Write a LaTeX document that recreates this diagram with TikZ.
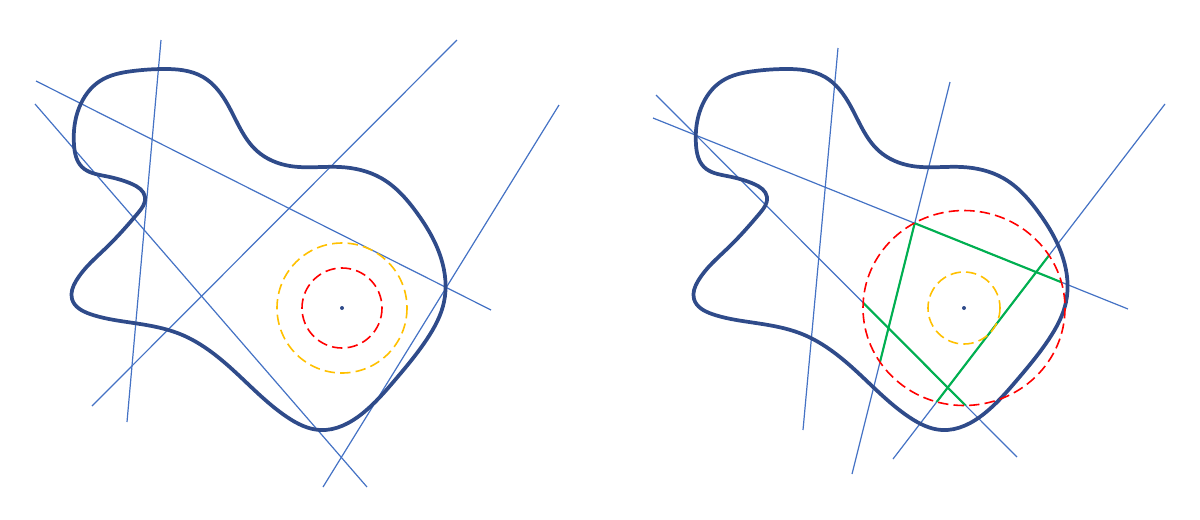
\documentclass[tikz,border=0pt]{standalone}
\usepackage{tikz}
\usetikzlibrary{hobby}

\definecolor{lineblue}{HTML}{4472C4}
\definecolor{blobblue}{HTML}{2F4B8A}
\definecolor{ringred}{HTML}{FF0000}
\definecolor{ringgold}{HTML}{FFC000}
\definecolor{chordgreen}{HTML}{00B050}

\tikzset{
  cutline/.style={draw=lineblue, line width=0.9pt},
  blob/.style={draw=blobblue, line width=2.8pt, line join=round},
  ring/.style={dash pattern=on 7.8pt off 3.9pt, line width=1.2pt},
  chord/.style={draw=chordgreen, line width=1.6pt},
}

\newcommand{\blobpath}{plot[closed hobby] coordinates {
  (162,69) (203,77) (228,105) (257,151) (290,166) (340,167) (381,178)
  (417,213) (441,258) (444,302) (427,339) (395,380) (363,413) (320,430)
  (287,417) (233,370) (180,334) (127,322) (90,314) (72,299) (76,281)
  (107,247) (138,213) (145,197) (132,184) (105,176) (82,167) (74,145)
  (79,108) (100,81) (133,71)}}

\begin{document}
\begin{tikzpicture}[x=0.75pt,y=0.75pt,yscale=-1,xscale=1]
\useasboundingbox (0,0) rectangle (1200,519);

% ---------- left panel ----------
%Straight Lines
\draw[cutline] (161,40) -- (127,422) ;
\draw[cutline] (457,40) -- (92,406) ;
\draw[cutline] (36,81) -- (491,310) ;
\draw[cutline] (35,104) -- (367,487) ;
\draw[cutline] (559,105) -- (323,487) ;
%Curve Lines
\draw[blob] \blobpath ;
%Shape: Circle
\draw[ring, draw=ringgold] (342,308) circle (65) ;
\draw[ring, draw=ringred] (342,308) circle (40) ;
\fill[blobblue] (342,308) circle (2) ;

% ---------- right panel ----------
%Straight Lines
\draw[cutline] (838,48) -- (803,430) ;
\draw[cutline] (950,82) -- (852,474) ;
\draw[cutline] (653,118) -- (1128,309) ;
\draw[cutline] (656,95) -- (1017,457) ;
\draw[cutline] (1165,104) -- (893,459) ;
%Chords inside the red circle
\begin{scope}
\clip (964,308) ellipse (101 and 97.5) ;
\draw[chord] (950,82) -- (852,474) ;
\draw[chord] (653,118) -- (1128,309) ;
\draw[chord] (656,95) -- (1017,457) ;
\draw[chord] (1165,104) -- (893,459) ;
\end{scope}
%Curve Lines
\begin{scope}[shift={(622,0)}]
\draw[blob] \blobpath ;
\end{scope}
%Shape: Circle
\draw[ring, draw=ringred] (964,308) ellipse (101 and 97.5) ;
\draw[ring, draw=ringgold] (964,308) circle (36) ;
\fill[blobblue] (964,308) circle (2) ;

\end{tikzpicture}
\end{document}
